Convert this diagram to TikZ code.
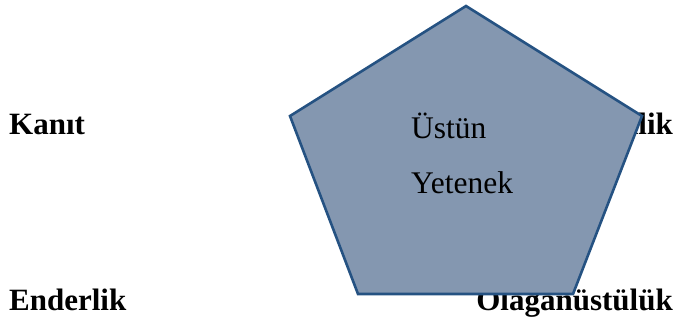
\documentclass[tikz,border=0pt]{standalone}
\usepackage{fontspec}
\setmainfont{Liberation Serif}
\usepackage{xcolor}
\usepackage{tikz}
\usetikzlibrary{positioning}

\definecolor{penfill}{RGB}{132,151,176}
\definecolor{pendraw}{RGB}{37,82,130}

\begin{document}
\begin{tikzpicture}[
    x=1pt, y=-1pt,
    lbl/.style={font=\fontsize{31}{36}\selectfont\bfseries, inner sep=0pt},
    inner/.style={font=\fontsize{31.5}{36}\selectfont, inner sep=0pt, anchor=base west},
    pent/.style={fill=penfill, draw=pendraw, line width=2.6pt, line join=miter}
]
    \useasboundingbox (0,0) rectangle (677,322);

    % labels round the pentagon
    \node[lbl, anchor=base west] (kanit) at (9,134) {Kanıt};
    \node[lbl, anchor=base east] (verim) at (673,134) {Verimlilik};
    \node[lbl, anchor=base west] (ender) at (9,310) {Enderlik};
    \node[lbl, anchor=base east] (olag) at (673,310) {Olağanüstülük};

    % the pentagon
    \coordinate (P1) at (466,6);
    \coordinate (P2) at (642,116);
    \coordinate (P3) at (573,294);
    \coordinate (P4) at (358,294);
    \coordinate (P5) at (290,116);
    \draw[pent] (P1) -- (P2) -- (P3) -- (P4) -- (P5) -- cycle;

    \node[inner] (ustun) at (411,138) {Üstün};
    \node[inner] (yetenek) at (411,193) {Yetenek};
\end{tikzpicture}
\end{document}
